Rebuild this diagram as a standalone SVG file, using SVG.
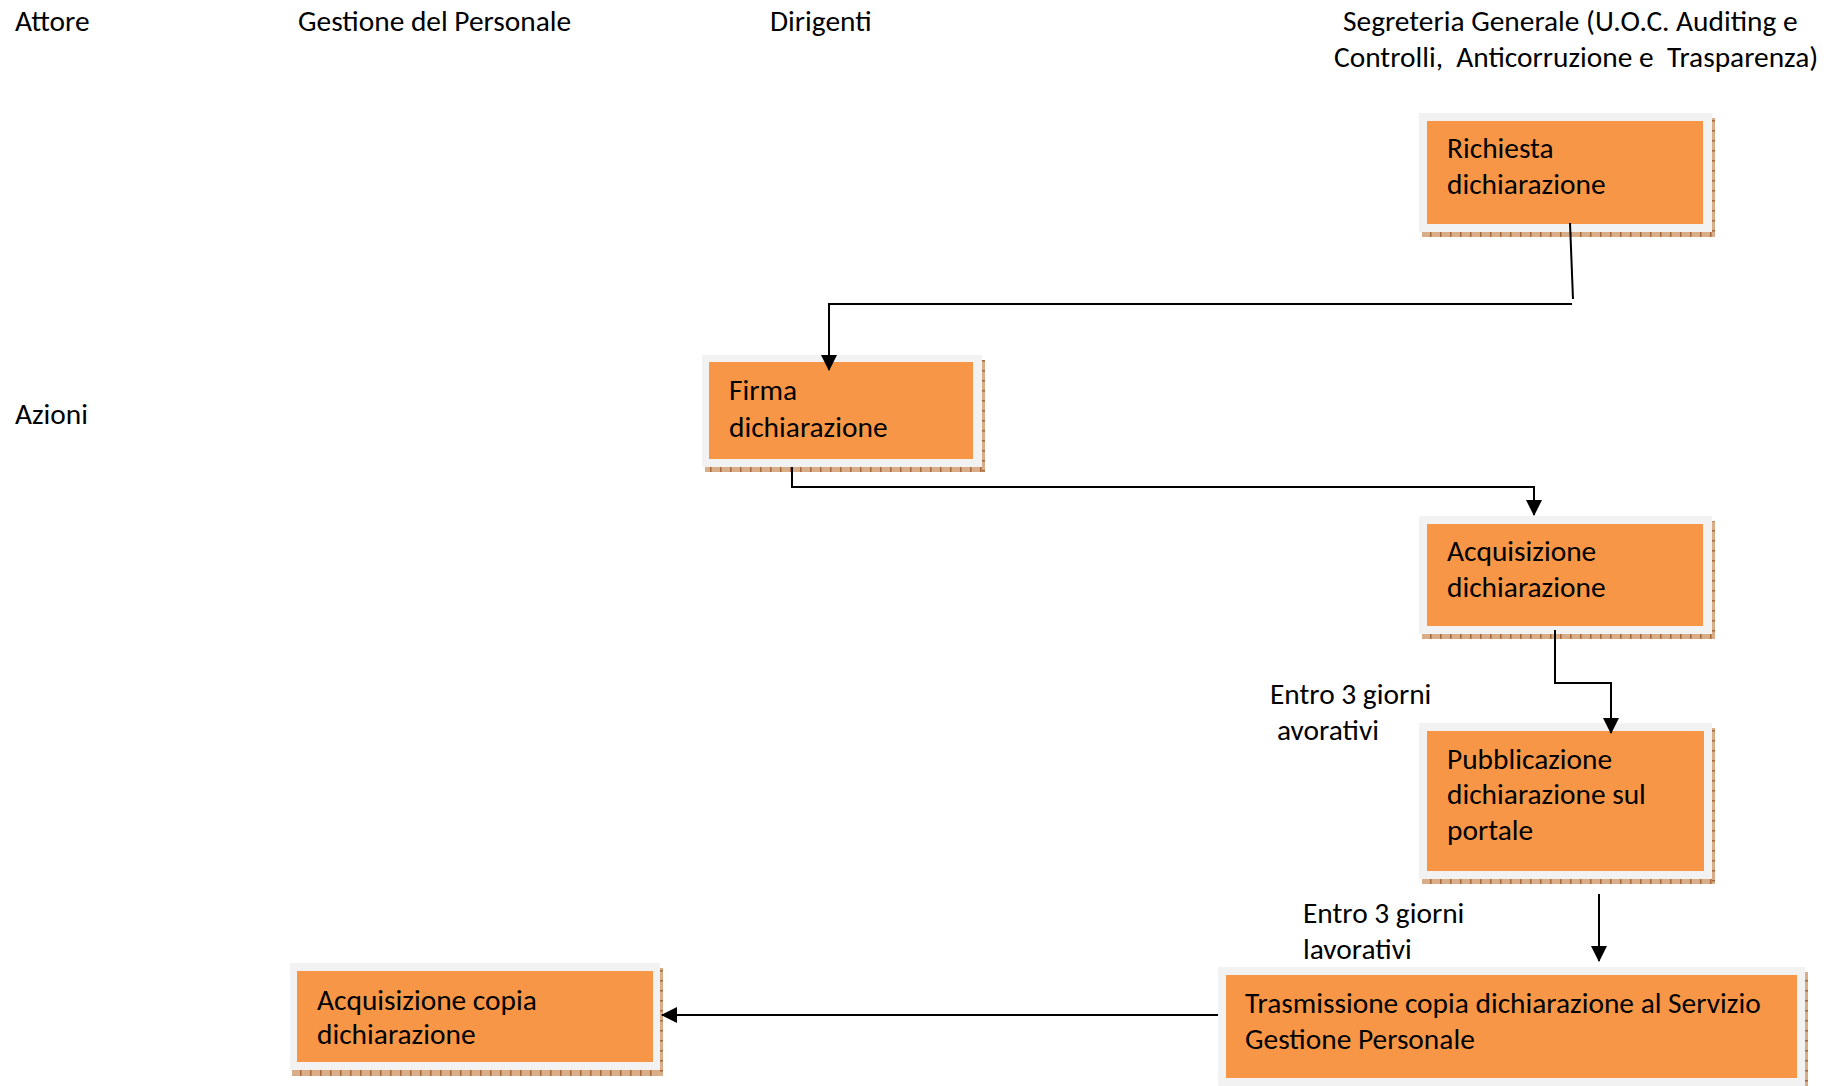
<svg xmlns="http://www.w3.org/2000/svg" width="1827" height="1086" viewBox="0 0 1827 1086">
<style>
  text { font-family: Carlito, Lato, "Liberation Sans", sans-serif; font-size: 29.4px; fill: #000; }
  .frame { fill: #f2f2f2; }
  .fill { fill: #f79646; }
  .shb { fill: url(#patB); }
  .shr { fill: url(#patR); }
  .conn { fill: none; stroke: #000; stroke-width: 2; }
</style>
<defs>
  <pattern id="patB" width="10" height="10" patternUnits="userSpaceOnUse">
    <rect width="10" height="10" fill="#d9ad88"/>
    <rect x="0" y="0" width="1.5" height="10" fill="#a5683a"/>
  </pattern>
  <pattern id="patR" width="10" height="10" patternUnits="userSpaceOnUse">
    <rect width="10" height="10" fill="#d9ad88"/>
    <rect x="0" y="0" width="10" height="1.5" fill="#a5683a"/>
  </pattern>
  <marker id="arr" markerWidth="16" markerHeight="16" refX="15" refY="8" orient="auto" markerUnits="userSpaceOnUse">
    <path d="M0,0 L16,8 L0,16 Z" fill="#000"/>
  </marker>
</defs>
<rect width="1827" height="1086" fill="#fff"/>

<g id="headers">
  <text x="15" y="31">Attore</text>
  <text x="298" y="31">Gestione del Personale</text>
  <text x="770" y="31">Dirigenti</text>
  <text x="1343" y="31">Segreteria Generale (U.O.C. Auditing e</text>
  <text x="1334" y="67" xml:space="preserve">Controlli,  Anticorruzione e  Trasparenza)</text>
  <text x="15" y="424">Azioni</text>
</g>

<g id="label-entro1">
  <text x="1270" y="704">Entro 3 giorni</text>
  <text x="1277" y="740">avorativi</text>
</g>
<g id="label-entro2">
  <text x="1303" y="923">Entro 3 giorni</text>
  <text x="1303" y="959">lavorativi</text>
</g>

<g id="n-richiesta">
  <rect class="shb" x="1422" y="232" width="292" height="5"/>
  <rect class="shr" x="1712" y="118" width="3" height="119"/>
  <rect class="frame" x="1419" y="113" width="293" height="119"/>
  <rect class="fill" x="1427" y="121" width="276" height="103"/>
  <text x="1447" y="158">Richiesta</text>
  <text x="1447" y="194">dichiarazione</text>
</g>

<g id="n-firma">
  <rect class="shb" x="705" y="467" width="280" height="5"/>
  <rect class="shr" x="982" y="360" width="3" height="112"/>
  <rect class="frame" x="702" y="355" width="280" height="112"/>
  <rect class="fill" x="709" y="362" width="264" height="97"/>
  <text x="729" y="400">Firma</text>
  <text x="729" y="437">dichiarazione</text>
</g>

<g id="n-acquisizione">
  <rect class="shb" x="1422" y="634" width="292" height="5"/>
  <rect class="shr" x="1712" y="521" width="3" height="118"/>
  <rect class="frame" x="1419" y="516" width="293" height="118"/>
  <rect class="fill" x="1427" y="524" width="276" height="102"/>
  <text x="1447" y="561">Acquisizione</text>
  <text x="1447" y="597">dichiarazione</text>
</g>

<g id="n-pubblicazione">
  <rect class="shb" x="1422" y="879" width="292" height="5"/>
  <rect class="shr" x="1712" y="728" width="3" height="156"/>
  <rect class="frame" x="1419" y="723" width="293" height="156"/>
  <rect class="fill" x="1427" y="731" width="277" height="140"/>
  <text x="1447" y="769">Pubblicazione</text>
  <text x="1447" y="804">dichiarazione sul</text>
  <text x="1447" y="840">portale</text>
</g>

<g id="n-trasmissione">
  <rect class="shr" x="1805" y="972" width="3" height="114"/>
  <rect class="frame" x="1218" y="967" width="587" height="119"/>
  <rect class="fill" x="1226" y="975" width="571" height="103"/>
  <text x="1245" y="1013">Trasmissione copia dichiarazione al Servizio</text>
  <text x="1245" y="1049">Gestione Personale</text>
</g>

<g id="n-acquisizione-copia">
  <rect class="shb" x="292" y="1070" width="371" height="6"/>
  <rect class="shr" x="660" y="968" width="3" height="108"/>
  <rect class="frame" x="290" y="963" width="370" height="107"/>
  <rect class="fill" x="297" y="971" width="356" height="91"/>
  <text x="317" y="1010">Acquisizione copia</text>
  <text x="317" y="1044">dichiarazione</text>
</g>

<g id="connectors">
  <line class="conn" x1="1570" y1="223" x2="1573" y2="299"/>
  <polyline class="conn" points="1572,304 829,304 829,370" marker-end="url(#arr)"/>
  <polyline class="conn" points="792,467 792,487 1534,487 1534,515" marker-end="url(#arr)"/>
  <polyline class="conn" points="1555,630 1555,683 1611,683 1611,733" marker-end="url(#arr)"/>
  <line class="conn" x1="1599" y1="894" x2="1599" y2="961" marker-end="url(#arr)"/>
  <line class="conn" x1="1218" y1="1015" x2="662" y2="1015" marker-end="url(#arr)"/>
</g>
</svg>
